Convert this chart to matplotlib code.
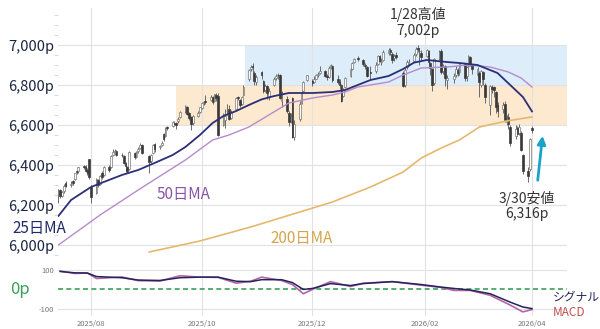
import matplotlib
matplotlib.use('Agg')
import matplotlib.pyplot as plt
import matplotlib.dates as mdates
import numpy as np
import pandas as pd

plt.rcParams['font.family'] = ['Noto Sans CJK JP', 'DejaVu Sans']

# trading days (US holidays removed)
holidays = ['2025-09-01', '2025-11-27', '2025-12-25', '2026-01-01', '2026-01-19', '2026-02-16']
dates = pd.bdate_range('2025-07-14', '2026-04-01', freq='C', holidays=holidays)

opens = [
    # Jul
    6255, 6275, 6245, 6268, 6310, 6300, 6318, 6330, 6368, 6370, 6395, 6392, 6375, 6428,
    # Aug
    6290, 6260, 6325, 6305, 6360, 6350, 6392, 6390, 6450, 6458, 6470, 6452, 6446, 6410, 6392, 6380, 6462, 6440, 6468, 6485, 6500,
    # Sep
    6445, 6420, 6460, 6505, 6490, 6500, 6555, 6545, 6590, 6595, 6612, 6610, 6620, 6640, 6668, 6690, 6662, 6640, 6610, 6645, 6665,
    # Oct
    6685, 6712, 6720, 6725, 6738, 6720, 6750, 6745, 6600, 6625, 6668, 6680, 6635, 6680, 6738, 6725, 6705, 6750, 6830, 6880, 6895, 6860, 6815,
    # Nov
    6865, 6820, 6775, 6795, 6745, 6800, 6835, 6852, 6850, 6720, 6730, 6660, 6620, 6735, 6540, 6630, 6710, 6770, 6825,
    # Dec
    6820, 6815, 6832, 6850, 6862, 6868, 6845, 6840, 6890, 6895, 6830, 6815, 6798, 6745, 6790, 6845, 6880, 6915, 6935, 6925, 6900, 6890,
    # Jan
    6865, 6870, 6905, 6945, 6915, 6925, 6960, 6975, 6955, 6935, 6950, 6860, 6800, 6890, 6905, 6920, 6955, 6985, 6972, 6960,
    # Feb
    6945, 6970, 6910, 6880, 6810, 6935, 6970, 6870, 6895, 6825, 6830, 6850, 6875, 6865, 6905, 6845, 6895, 6940, 6900,
    # Mar + Apr 1
    6850, 6860, 6800, 6865, 6800, 6700, 6790, 6790, 6765, 6700, 6680, 6705, 6615, 6640, 6590, 6545, 6585, 6560, 6560, 6450, 6370, 6380, 6585,
]
closes = [
    6268, 6243, 6263, 6297, 6296, 6305, 6309, 6359, 6363, 6389, 6389, 6371, 6362, 6339,
    6238, 6330, 6300, 6345, 6340, 6390, 6373, 6446, 6466, 6468, 6450, 6449, 6411, 6396, 6370, 6467, 6439, 6465, 6481, 6502, 6460,
    6415, 6448, 6502, 6482, 6495, 6512, 6532, 6587, 6584, 6615, 6606, 6600, 6631, 6664, 6693, 6656, 6637, 6605, 6643, 6661, 6688,
    6711, 6715, 6716, 6740, 6714, 6753, 6735, 6552, 6654, 6644, 6671, 6629, 6664, 6735, 6735, 6699, 6738, 6791, 6875, 6890, 6890, 6822, 6840,
    6852, 6771, 6796, 6760, 6770, 6832, 6846, 6850, 6737, 6734, 6672, 6617, 6642, 6538, 6603, 6705, 6766, 6813, 6849,
    6812, 6829, 6849, 6857, 6870, 6846, 6840, 6887, 6901, 6827, 6816, 6800, 6721, 6775, 6834, 6878, 6909, 6932, 6930, 6905, 6896, 6845,
    6858, 6902, 6944, 6921, 6921, 6966, 6977, 6963, 6926, 6944, 6940, 6797, 6875, 6913, 6916, 6950, 6978, 6978, 6969, 6939,
    6976, 6917, 6883, 6798, 6932, 6964, 6865, 6890, 6833, 6836, 6843, 6881, 6861, 6909, 6837, 6890, 6946, 6908, 6878,
    6881, 6816, 6869, 6830, 6740, 6795, 6782, 6775, 6690, 6672, 6699, 6625, 6630, 6606, 6510, 6581, 6556, 6591, 6477, 6369, 6343, 6529, 6575,
]
highs = [
    6280, 6282, 6270, 6305, 6318, 6318, 6325, 6362, 6375, 6392, 6402, 6398, 6385, 6432,
    6298, 6335, 6330, 6350, 6368, 6395, 6398, 6450, 6480, 6482, 6475, 6460, 6450, 6415, 6395, 6470, 6466, 6470, 6490, 6508, 6505,
    6450, 6455, 6505, 6512, 6502, 6520, 6560, 6590, 6596, 6620, 6620, 6615, 6640, 6670, 6698, 6694, 6665, 6645, 6648, 6670, 6692,
    6715, 6722, 6750, 6752, 6745, 6756, 6762, 6762, 6660, 6680, 6705, 6700, 6675, 6740, 6745, 6730, 6745, 6800, 6880, 6900, 6910, 6870, 6850,
    6870, 6825, 6805, 6800, 6785, 6840, 6855, 6862, 6856, 6770, 6745, 6670, 6660, 6740, 6625, 6720, 6775, 6820, 6852,
    6830, 6845, 6855, 6865, 6895, 6875, 6855, 6895, 6905, 6902, 6850, 6832, 6805, 6785, 6840, 6890, 6915, 6935, 6945, 6930, 6910, 6895,
    6895, 6915, 6950, 6950, 6935, 6975, 6986, 6985, 6965, 6955, 6965, 6870, 6885, 6925, 6930, 6958, 6990, 7002, 6985, 6975,
    6980, 6975, 6915, 6885, 6935, 6975, 6980, 6905, 6900, 6850, 6860, 6895, 6885, 6912, 6912, 6895, 6950, 6945, 6905,
    6890, 6870, 6875, 6870, 6810, 6800, 6800, 6795, 6770, 6715, 6715, 6720, 6650, 6660, 6600, 6600, 6595, 6605, 6570, 6455, 6390, 6535, 6595,
]
lows = [
    6212, 6235, 6240, 6260, 6288, 6290, 6300, 6325, 6355, 6360, 6380, 6365, 6352, 6330,
    6212, 6255, 6290, 6300, 6330, 6345, 6365, 6385, 6445, 6450, 6445, 6440, 6405, 6365, 6360, 6375, 6430, 6435, 6462, 6478, 6455,
    6360, 6410, 6455, 6465, 6480, 6495, 6522, 6540, 6575, 6590, 6598, 6580, 6610, 6635, 6660, 6648, 6625, 6575, 6600, 6640, 6660,
    6680, 6700, 6705, 6718, 6705, 6715, 6720, 6545, 6595, 6585, 6650, 6625, 6630, 6675, 6725, 6690, 6700, 6745, 6820, 6868, 6860, 6800, 6800,
    6830, 6760, 6765, 6730, 6725, 6795, 6825, 6830, 6730, 6690, 6660, 6595, 6610, 6535, 6525, 6620, 6705, 6765, 6820,
    6795, 6808, 6828, 6840, 6855, 6840, 6825, 6835, 6880, 6815, 6805, 6780, 6715, 6740, 6785, 6840, 6875, 6912, 6920, 6895, 6880, 6840,
    6825, 6860, 6900, 6915, 6900, 6920, 6950, 6950, 6910, 6920, 6930, 6790, 6790, 6880, 6895, 6915, 6945, 6965, 6900, 6920,
    6940, 6905, 6850, 6770, 6800, 6925, 6855, 6855, 6795, 6780, 6810, 6840, 6845, 6850, 6820, 6820, 6880, 6895, 6855,
    6840, 6740, 6790, 6800, 6710, 6650, 6760, 6740, 6660, 6640, 6660, 6615, 6600, 6580, 6495, 6530, 6545, 6550, 6470, 6355, 6316, 6370, 6560,
]

# moving averages
ma25_dates = ['2025-07-14', '2025-07-21', '2025-08-01', '2025-08-08', '2025-08-18', '2025-08-27', '2025-09-05',
              '2025-09-15', '2025-09-22', '2025-09-30', '2025-10-07', '2025-10-13', '2025-10-20', '2025-10-27',
              '2025-11-03', '2025-11-10', '2025-11-18', '2025-12-01', '2025-12-12', '2025-12-19', '2025-12-26',
              '2026-01-02', '2026-01-12', '2026-01-20', '2026-01-26', '2026-02-02', '2026-02-13', '2026-02-20',
              '2026-03-02', '2026-03-13', '2026-03-20', '2026-03-27', '2026-04-01']
ma25 = [6145, 6225, 6290, 6315, 6350, 6375, 6410, 6450, 6490, 6550, 6610, 6645, 6670, 6700,
        6728, 6745, 6760, 6760, 6765, 6775, 6800, 6825, 6845, 6880, 6912, 6925, 6915, 6910,
        6900, 6860, 6800, 6740, 6668]

ma50_dates = ['2025-07-14', '2025-08-06', '2025-08-27', '2025-09-02', '2025-09-22', '2025-10-07', '2025-10-16',
              '2025-10-27', '2025-11-07', '2025-11-18', '2025-12-01', '2025-12-12', '2025-12-19', '2025-12-26',
              '2026-01-12', '2026-01-20', '2026-01-30', '2026-02-13', '2026-02-25', '2026-03-09', '2026-03-19',
              '2026-03-26', '2026-04-01']
ma50 = [6000, 6150, 6275, 6310, 6425, 6525, 6550, 6590, 6650, 6710, 6735, 6750, 6765, 6790,
        6815, 6850, 6885, 6890, 6900, 6890, 6865, 6835, 6790]

ma200_dates = ['2025-09-02', '2025-09-30', '2025-10-28', '2025-11-24', '2025-12-12', '2026-01-02', '2026-01-20',
               '2026-01-30', '2026-02-10', '2026-02-20', '2026-03-03', '2026-03-18', '2026-04-01']
ma200 = [5965, 6020, 6090, 6165, 6215, 6290, 6365, 6435, 6485, 6525, 6590, 6620, 6640]

# MACD panel
macd_dates = ['2025-07-15', '2025-07-23', '2025-07-30', '2025-08-04', '2025-08-11', '2025-08-18', '2025-08-27',
              '2025-09-08', '2025-09-19', '2025-09-30', '2025-10-10', '2025-10-20', '2025-10-28', '2025-11-03',
              '2025-11-14', '2025-11-20', '2025-11-26', '2025-12-01', '2025-12-11', '2025-12-22', '2025-12-29',
              '2026-01-14', '2026-01-30', '2026-02-10', '2026-02-17', '2026-02-26', '2026-03-09', '2026-03-20',
              '2026-03-27', '2026-04-01']
signal = [92, 85, 84, 66, 63, 60, 48, 46, 60, 63, 63, 42, 40, 50, 50, 35, 0, 5, 30, 20, 30,
          40, 25, 12, 5, -3, -22, -65, -90, -98]
macd = [94, 82, 84, 56, 60, 64, 45, 43, 70, 63, 62, 32, 42, 63, 46, 25, -22, 0, 40, 15, 32,
        40, 22, 10, -5, -5, -30, -80, -115, -103]

month_ticks = ['2025-08-01', '2025-10-01', '2025-12-01', '2026-02-01', '2026-04-01']
month_labels = ['2025/08', '2025/10', '2025/12', '2026/02', '2026/04']
price_ticks = [6000, 6200, 6400, 6600, 6800, 7000]

fig = plt.figure(figsize=(6, 3.29), dpi=100)
W, H = 600.0, 329.0
ax = fig.add_axes([58 / W, 1 - 258 / H, (567 - 58) / W, 250 / H])
ax2 = fig.add_axes([58 / W, 1 - 316 / H, (567 - 58) / W, 58 / H], sharex=ax)

x = mdates.date2num(dates)
o = np.array(opens)
c = np.array(closes)
hi = np.array(highs)
lo = np.array(lows)
up = c >= o

xl = mdates.date2num(pd.Timestamp('2025-08-01')) - 18.2
xr = mdates.date2num(pd.Timestamp('2026-04-01')) + 19.3

# bands
ax.fill_between([mdates.date2num(pd.Timestamp('2025-10-25')), xr], 6800, 7000, color='#ddedfa', lw=0, zorder=0)
ax.fill_between([mdates.date2num(pd.Timestamp('2025-09-17')), xr], 6600, 6800, color='#fde9cf', lw=0, zorder=0)

# candles
ax.vlines(x, lo, hi, color='#555555', lw=0.6, zorder=3)
ax.bar(x[up], (c - o)[up], bottom=o[up], width=0.95, facecolor='white', edgecolor='#777777', lw=0.5, zorder=4)
ax.bar(x[~up], (o - c)[~up], bottom=c[~up], width=0.95, facecolor='#3a3a3a', edgecolor='#3a3a3a', lw=0.5, zorder=4)

ax.plot(pd.to_datetime(ma200_dates), ma200, color='#e6b86e', lw=1.2, zorder=5)
ax.plot(pd.to_datetime(ma50_dates), ma50, color='#b58bd0', lw=1.0, zorder=5)
ax.plot(pd.to_datetime(ma25_dates), ma25, color='#2b2f78', lw=1.3, zorder=6)

ax.set_xlim(xl, xr)
ax.set_ylim(5935, 7185)
ax.set_yticks(price_ticks)
ax.set_yticklabels([f'{v:,}p' for v in price_ticks], fontsize=10.5, color='#1c2541')
ax.set_yticks(np.arange(5950, 7200, 50), minor=True)
ax.tick_params(axis='y', which='major', length=0, pad=3)
ax.tick_params(axis='y', which='minor', length=3, color='#d0d0d0', width=0.6)
ax.set_xticks(mdates.date2num(pd.to_datetime(month_ticks)))
ax.tick_params(axis='x', length=0, labelbottom=False)
ax.grid(True, color='#e2e2e2', lw=0.8, zorder=1)
ax.set_axisbelow(True)
for s in ax.spines.values():
    s.set_visible(False)

ax.text(mdates.date2num(pd.Timestamp('2026-01-28')), 7112, '1/28高値\n7,002p', ha='center', va='center',
        fontsize=10, color='#333333', linespacing=1.25)
ax.text(mdates.date2num(pd.Timestamp('2026-03-29')), 6197, '3/30安値\n6,316p', ha='center', va='center',
        fontsize=10, color='#333333', linespacing=1.1)
ax.text(mdates.date2num(pd.Timestamp('2025-09-06')), 6250, '50日MA', ha='left', va='center', fontsize=11, color='#8a55a8')
ax.text(mdates.date2num(pd.Timestamp('2025-11-08')), 6030, '200日MA', ha='left', va='center', fontsize=11, color='#d4a54c')
fig.text(12 / W, 1 - 228 / H, '25日MA', ha='left', va='center', fontsize=11, color='#1f2a6b')

ax.annotate('', xy=(mdates.date2num(pd.Timestamp('2026-04-07')), 6560),
            xytext=(mdates.date2num(pd.Timestamp('2026-04-04')), 6310),
            arrowprops=dict(arrowstyle='-|>', color='#1aa3c8', lw=2, mutation_scale=12), zorder=7)

# MACD
ax2.axhline(0, color='#3aa05a', lw=1.2, ls=(0, (3, 2)), zorder=2)
ax2.plot(pd.to_datetime(macd_dates), macd, color='#b5649e', lw=1.2, zorder=3)
ax2.plot(pd.to_datetime(macd_dates), signal, color='#23235e', lw=1.1, zorder=4)
ax2.set_ylim(-136, 161)
ax2.set_yticks([-100, 100])
ax2.set_yticklabels(['-100', '100'], fontsize=5.5, color='#777777')
ax2.tick_params(axis='y', length=0, pad=3)
ax2.set_xticks(mdates.date2num(pd.to_datetime(month_ticks)))
ax2.set_xticklabels(month_labels, fontsize=5.5, color='#777777')
ax2.tick_params(axis='x', length=0, pad=3)
ax2.set_xlim(xl, xr)
ax2.grid(True, color='#e2e2e2', lw=0.8, zorder=1)
ax2.set_axisbelow(True)
for s in ax2.spines.values():
    s.set_visible(False)

fig.text(10 / W, 1 - 289 / H, '0p', ha='left', va='center', fontsize=12, color='#3aa05a')
fig.text(553 / W, 1 - 298 / H, 'シグナル', ha='left', va='center', fontsize=8.5, color='#23235e')
fig.text(553 / W, 1 - 313 / H, 'MACD', ha='left', va='center', fontsize=8.5, color='#c0504d')

fig.savefig('out.png', dpi=100)
